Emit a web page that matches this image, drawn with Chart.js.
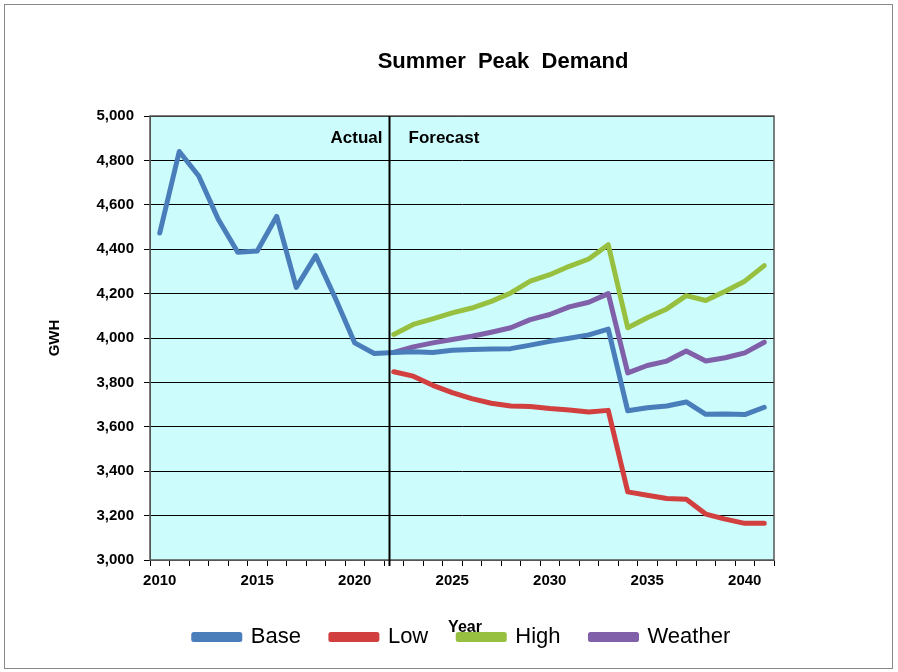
<!DOCTYPE html>
<html>
<head>
<meta charset="utf-8">
<script src="https://cdn.jsdelivr.net/npm/chart.js@4.4.1/dist/chart.umd.min.js"></script>
<style>
  html, body { margin: 0; padding: 0; background: #fff; }
  #wrap { width: 898px; height: 672px; }
</style>
</head>
<body>
<div id="wrap"><canvas id="myChart" width="898" height="672"></canvas></div>
<script>
const years = [];
for (let y = 2010; y <= 2041; y++) years.push(String(y));

const baseData = [4473, 4840, 4730, 4535, 4386, 4392, 4548, 4228, 4371, 4180, 3978, 3930,
                  3935, 3938, 3935, 3945, 3948, 3950, 3952, 3968, 3985, 3999, 4014, 4040,
                  3672, 3686, 3694, 3712, 3656, 3658, 3655, 3688];
const lowData = [null, null, null, null, null, null, null, null, null, null, null, null,
                 3848, 3828, 3787, 3754, 3727, 3706, 3694, 3691, 3682, 3676, 3667, 3674,
                 3307, 3292, 3277, 3274, 3207, 3184, 3165, 3165];
const highData = [null, null, null, null, null, null, null, null, null, null, null, null,
                  4016, 4061, 4086, 4113, 4135, 4165, 4203, 4256, 4285, 4323, 4356, 4420,
                  4046, 4091, 4131, 4191, 4169, 4211, 4256, 4326];
const weatherData = [null, null, null, null, null, null, null, null, null, null, null, null,
                     3935, 3960, 3978, 3993, 4008, 4026, 4046, 4083, 4106, 4140, 4161, 4200,
                     3843, 3876, 3896, 3941, 3896, 3911, 3933, 3981];

const forecastSplit = 11.75; // between 2021 and 2022

const FONT = '"Liberation Sans", Arial, sans-serif';

const decorations = {
  id: 'decorations',
  beforeDraw(chart) {
    const { ctx, chartArea: a } = chart;
    ctx.save();
    ctx.fillStyle = '#fff';
    ctx.fillRect(0, 0, chart.width, chart.height);
    ctx.fillStyle = '#ccfcfc';
    ctx.fillRect(a.left, a.top, a.right - a.left, a.bottom - a.top);
    ctx.strokeStyle = '#8a8a8a';
    ctx.lineWidth = 1;
    ctx.strokeRect(4.5, 4.5, 888, 664);
    ctx.restore();
  },
  afterDatasetsDraw(chart) {
    const { ctx, chartArea: a } = chart;
    const x = chart.scales.x;
    const p0 = x.getPixelForValue(Math.floor(forecastSplit));
    const p1 = x.getPixelForValue(Math.ceil(forecastSplit));
    const px = Math.round(p0 + (p1 - p0) * (forecastSplit - Math.floor(forecastSplit))) + 0.5;
    ctx.save();
    ctx.strokeStyle = '#555';
    ctx.lineWidth = 1.5;
    ctx.strokeRect(a.left, a.top, a.right - a.left, a.bottom - a.top);
    ctx.strokeStyle = '#000';
    ctx.lineWidth = 2;
    ctx.beginPath();
    ctx.moveTo(px, a.top);
    ctx.lineTo(px, a.bottom + 6);
    ctx.stroke();

    ctx.fillStyle = '#000';
    ctx.font = 'bold 17px ' + FONT;
    ctx.textBaseline = 'middle';
    ctx.textAlign = 'right';
    ctx.fillText('Actual', px - 7, a.top + 22);
    ctx.textAlign = 'left';
    ctx.fillText('Forecast', px + 19, a.top + 22);

    ctx.textAlign = 'center';
    ctx.font = 'bold 22px ' + FONT;
    ctx.fillText('Summer  Peak  Demand', 503, 62);

    ctx.font = 'bold 16px ' + FONT;
    ctx.fillText('Year', (a.left + a.right) / 2 + 3, a.bottom + 68);
    ctx.restore();
  }
};

const ctx = document.getElementById('myChart');

var myChart = new Chart(ctx, {
  type: 'line',
  data: {
    labels: years,
    datasets: [
      { label: 'Base', data: baseData, borderColor: '#4a7ebb', backgroundColor: '#4a7ebb' },
      { label: 'Low', data: lowData, borderColor: '#d23f3f', backgroundColor: '#d23f3f' },
      { label: 'High', data: highData, borderColor: '#98c040', backgroundColor: '#98c040' },
      { label: 'Weather', data: weatherData, borderColor: '#8060a8', backgroundColor: '#8060a8' }
    ]
  },
  options: {
    responsive: false,
    animation: false,
    spanGaps: false,
    elements: {
      line: { borderWidth: 5, tension: 0, borderCapStyle: 'round', borderJoinStyle: 'round' },
      point: { radius: 0, hoverRadius: 0 }
    },
    layout: { padding: { left: 0, right: 124, top: 116, bottom: 14 } },
    plugins: {
      title: { display: false },
      tooltip: { enabled: false },
      legend: {
        position: 'bottom',
        fullSize: false,
        labels: {
          boxWidth: 46,
          boxHeight: 5,
          padding: 30,
          color: '#000',
          font: { family: FONT, size: 22 }
        }
      }
    },
    scales: {
      x: {
        type: 'category',
        offset: true,
        grid: {
          offset: true,
          drawOnChartArea: false,
          drawTicks: true,
          tickLength: 6,
          color: '#000'
        },
        border: { color: '#555', width: 1 },
        ticks: {
          autoSkip: false,
          maxRotation: 0,
          padding: 6,
          color: '#000',
          font: { family: FONT, size: 15, weight: 'bold' },
          callback: function (val, i) {
            const lab = this.getLabelForValue(val);
            return Number(lab) % 5 === 0 ? lab : '';
          }
        }
      },
      y: {
        min: 3000,
        max: 5000,
        afterFit: (s) => { s.width = 150; },
        grid: { color: '#000', lineWidth: 1, tickLength: 6, drawTicks: true },
        border: { color: '#555', width: 1 },
        ticks: {
          stepSize: 200,
          padding: 10,
          color: '#000',
          font: { family: FONT, size: 15, weight: 'bold' },
          callback: (v) => v.toLocaleString('en-US')
        },
        title: {
          display: true,
          text: 'GWH',
          color: '#000',
          padding: { top: 46, bottom: 0 },
          font: { family: FONT, size: 15, weight: 'bold' }
        }
      }
    }
  },
  plugins: [decorations]
});
</script>
</body>
</html>
